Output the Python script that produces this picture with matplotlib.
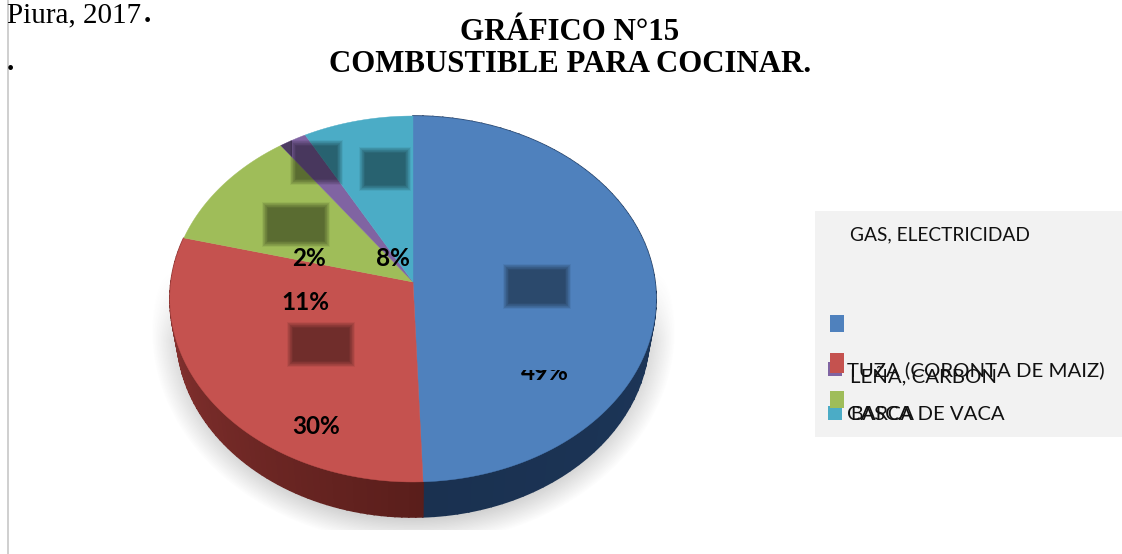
"""Combustible para cocinar: tilted pie chart with a broken legend."""

import numpy as np
import matplotlib
matplotlib.use("Agg")
import matplotlib.pyplot as plt
from matplotlib.patches import Rectangle, Polygon

categories = ["GAS, ELECTRICIDAD", "TUZA (CORONTA DE MAIZ)", "CASCA DE VACA", "LEÑA, CARBON", "BARCA"]
values = [49.4, 29.6, 11.0, 2.0, 8.0]
colors = ["#4f81bd", "#c5524f", "#9fbd59", "#8064a2", "#4bacc6"]
wall_colors = {0: ("#1f3b63", "#1a3150"), 1: ("#5a1e1b", "#8f3634")}

# label positions in pixels, same order as values
label_xy = [(545, 373), (316, 426), (305, 303), (309, 258), (393, 258)]
legend_xy = [(850, 235), (847, 370), (847, 414), (850, 376), (850, 415)]
legend_size = [13.8, 14.7, 14.6, 14.7, 14.0]
swatch_xy = [(830, 315, 14, 17), (830, 353, 14, 20), (830, 391, 14, 17),
             (828, 362, 14, 14), (828, 406, 14, 14)]
boxes = [(506, 267, 62, 39), (290, 325, 62, 39), (265, 205, 62, 39),
         (293, 143, 47, 39), (362, 150, 46, 38)]

# perspective of the pie: circle centre falls on (cx, apex_y)
cx, apex_y, k, a, c = 413, 282, 242, -155.2, 0.0929


def project(theta, drop=0.0, shrink=1.0):
    u, s = np.cos(theta), np.sin(theta)
    d = c * u + 1
    return cx + k * shrink * s / d, (a * u + apex_y) / d + drop


def blend(c1, c2, t):
    c1 = np.array(matplotlib.colors.to_rgb(c1))
    c2 = np.array(matplotlib.colors.to_rgb(c2))
    return tuple(c1 + (c2 - c1) * t)


fig = plt.figure(figsize=(11.22, 5.54), dpi=100)
ax = fig.add_axes([0, 0, 1, 1])
ax.axis("off")

# soft shadow under the pie
yy, xx = np.mgrid[0:554, 0:1122]
r = np.sqrt(((xx - 413) / 262.0) ** 2 + ((yy - 330) / 214.0) ** 2)
shade = np.clip((1.0 - r) / 0.17, 0, 1) * 0.36
shade *= np.clip((yy - 270) / 70.0, 0, 1) * (yy < 530)
rgba = np.zeros((554, 1122, 4))
rgba[..., :3] = 0.3
rgba[..., 3] = shade
ax.imshow(rgba, extent=(0, 1122, 554, 0), aspect="auto", zorder=1)
ax.set_xlim(0, 1122)
ax.set_ylim(554, 0)

edges = np.cumsum([0.0] + values) / sum(values) * 2 * np.pi

# side wall, only the two front slices show it
for i in wall_colors:
    steps = np.linspace(edges[i], edges[i + 1], 70)
    for j in range(len(steps) - 1):
        t = np.linspace(steps[j], steps[j + 1], 3)
        x1, y1 = project(t)
        x2, y2 = project(t[::-1], drop=35, shrink=0.972)
        col = blend(*wall_colors[i], j / (len(steps) - 2))
        ax.fill(np.r_[x1, x2], np.r_[y1, y2], fc=col, ec=col, lw=1.2, zorder=2)

# top face
wedges = []
for i, col in enumerate(colors):
    t = np.linspace(edges[i], edges[i + 1], 120)
    x, y = project(t)
    ax.fill(np.r_[cx, x], np.r_[apex_y, y], color=col, lw=0.3, zorder=3)
    wedges.append(np.c_[np.r_[cx, x], np.r_[apex_y, y]])

# blurred dark label boxes
layers = np.linspace(3, -3, 10)
for bx, by, bw, bh in boxes:
    for grow in layers:
        ax.add_patch(Rectangle((bx - grow, by - grow), bw + 2 * grow, bh + 2 * grow,
                               fc="black", ec="none", alpha=0.05, zorder=4))

# the top of the thin purple slice is darkened further left than its box
shadow = Rectangle((275, 130), 17, 52, fc="black", ec="none", alpha=0.4, zorder=4)
ax.add_patch(shadow)
shadow.set_clip_path(Polygon(wedges[3], transform=ax.transData))

# percent labels
for i, v in enumerate(values):
    lx, ly = label_xy[i]
    txt = ax.text(lx, ly, f"{round(v)}%", family="Lato", fontsize=17.5, fontweight="bold",
                  ha="center", va="center", color="black", zorder=6)
    if i == 0:
        # the top half of this label is hidden in the picture
        txt.set_clip_on(True)
        txt.set_clip_path(Rectangle((515, 370), 60, 12, transform=ax.transData))

# legend panel
ax.add_patch(Rectangle((815, 211), 307, 226, fc="#f2f2f2", ec="none", zorder=3))
for i, (sx, sy, sw, sh) in enumerate(swatch_xy):
    ax.add_patch(Rectangle((sx, sy), sw, sh, fc=colors[i], ec="none", zorder=5 if i < 3 else 4))
for i, name in enumerate(categories):
    ax.text(*legend_xy[i], name, family="Lato", fontsize=legend_size[i], va="center",
            color="#111111", zorder=6)

# titles
title_font = dict(family="Liberation Serif", fontweight="bold", color="black", ha="center", va="center")
ax.text(570, 32, "GRÁFICO N°15", fontsize=22.2, **title_font)
ax.text(570, 64, "COMBUSTIBLE PARA COCINAR.", fontsize=22.2, **title_font)
ax.text(7, 15, "Piura, 2017", family="Liberation Serif", fontsize=21, va="center", color="black")
ax.text(144, 15, ".", family="Liberation Serif", fontsize=21, fontweight="bold", va="center")
ax.text(7, 62, ".", family="Liberation Serif", fontsize=21, fontweight="bold", va="center")

# page edge on the left
ax.add_patch(Rectangle((7, 0), 2.5, 554, fc="#d0d0d0", ec="none", zorder=2))

fig.savefig("out.png", dpi=100)
